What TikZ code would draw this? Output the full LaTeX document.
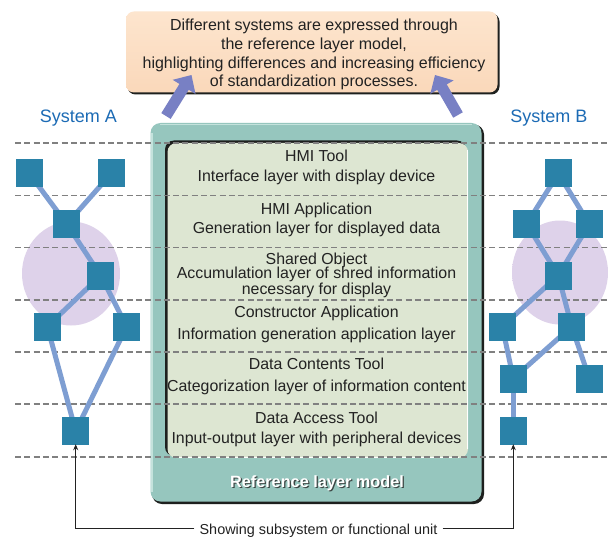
\documentclass[tikz,border=0pt]{standalone}
\usepackage{fontspec}
\setmainfont{Liberation Sans}
\usetikzlibrary{arrows.meta,shadings}
\definecolor{sqcol}{RGB}{42,130,168}
\definecolor{linkcol}{RGB}{126,158,210}
\definecolor{glowcol}{RGB}{222,210,234}
\definecolor{tealcol}{RGB}{150,198,190}
\definecolor{teallight}{RGB}{196,226,220}
\definecolor{innercol}{RGB}{221,230,210}
\definecolor{peachtop}{RGB}{253,229,206}
\definecolor{peachbot}{RGB}{250,216,186}
\definecolor{arrowcol}{RGB}{120,128,196}
\definecolor{sysblue}{RGB}{28,107,181}
\definecolor{dashcol}{RGB}{128,128,128}
\definecolor{txtcol}{RGB}{34,34,34}
\definecolor{darkedge}{RGB}{30,32,30}
\definecolor{shadowgray}{RGB}{60,70,68}
\pgfdeclareradialshading{glowshade}{\pgfpoint{0bp}{0bp}}{color(0bp)=(glowcol); color(32bp)=(glowcol); color(50bp)=(white)}
\pgfdeclarelayer{back}
\pgfdeclarelayer{mid}
\pgfsetlayers{back,mid,main}
\tikzset{
  sq/.style={rectangle, fill=sqcol, minimum width=27pt, minimum height=28pt, inner sep=0pt},
  link/.style={draw=linkcol, line width=5pt},
  dashline/.style={draw=dashcol, line width=1.9pt, dash pattern=on 6pt off 3.3pt},
  layertxt/.style={font=\fontsize{15.9}{16}\selectfont, text=txtcol, anchor=base, inner sep=0pt},
  msgtxt/.style={font=\fontsize{16}{18}\selectfont, text=txtcol, anchor=base, inner sep=0pt},
  systxt/.style={font=\fontsize{18}{20}\selectfont, text=sysblue, anchor=base, inner sep=0pt},
  reftxt/.style={font=\fontsize{16.3}{18}\selectfont\bfseries, anchor=base, inner sep=0pt},
  bigarrow/.style={draw=arrowcol, line width=11pt, -{Triangle[length=14pt,width=26pt]}},
  thinarrow/.style={draw=txtcol, line width=0.9pt, -{Stealth[length=6pt,width=5pt]}},
  glow/.style={shading=glowshade}
}
\begin{document}
\begin{tikzpicture}[x=1pt,y=-1pt]
\useasboundingbox (0,0) rectangle (609,537);

\begin{pgfonlayer}{back}
\fill[white] (0,0) rectangle (609,537);
% glows
\shade[glow] (71,273.5) ellipse [x radius=49, y radius=52];
\shade[glow] (560,272.5) ellipse [x radius=48, y radius=52];

% top message box
\fill[darkedge, rounded corners=8pt] (127.5,13.5) rectangle (499.5,94.5);
\shade[top color=peachtop, bottom color=peachbot, rounded corners=8pt] (126,11.5) rectangle (497.5,92.5);

% reference layer model box
\fill[darkedge, rounded corners=10pt] (152,124.5) rectangle (484,504);
\fill[tealcol, rounded corners=10pt] (150.5,123) rectangle (481.5,501.5);
\draw[teallight, line width=1.5pt] (152,133) -- (152,492);
\draw[teallight, line width=1.5pt] (160,124.3) -- (472,124.3);
\fill[darkedge, rounded corners=9pt] (165,140.5) rectangle (466,456);
\fill[innercol, rounded corners=9pt] (167.5,143) rectangle (468,458);
\draw[white, line width=1pt] (176,457.5) -- (459,457.5);
\draw[white, line width=1pt] (467.5,150) -- (467.5,449);

% dashed layer lines
\foreach \yy in {143,195.5,247.5,300,352.3,404.3,456.7}
  \draw[dashline] (15,\yy) -- (609,\yy);
\end{pgfonlayer}

% message text
\node[msgtxt] (m1) at (314,30.7) {Different systems are expressed through};
\node[msgtxt] (m2) at (314,49.4) {the reference layer model,};
\node[msgtxt] (m3) at (314,68.1) {highlighting differences and increasing efficiency};
\node[msgtxt] (m4) at (314,86.6) {of standardization processes.};

% big arrows
\coordinate (la0) at (166,116);
\coordinate (la1) at (191.5,75);
\coordinate (ra0) at (458,115);
\coordinate (ra1) at (435,75);
\draw[bigarrow] (la0) -- (la1);
\draw[bigarrow] (ra0) -- (ra1);

% system labels
\node[systxt] (sysA) at (78.3,122.7) {System A};
\node[systxt] (sysB) at (548.8,122.7) {System B};

% layer texts
\node[layertxt] (l1a) at (316.5,161.5) {HMI Tool};
\node[layertxt] (l1b) at (316.5,182) {Interface layer with display device};
\node[layertxt] (l2a) at (316.5,214.3) {HMI Application};
\node[layertxt] (l2b) at (316.5,233) {Generation layer for displayed data};
\node[layertxt] (l3a) at (316.5,264) {Shared Object};
\node[layertxt] (l3b) at (316.5,278.5) {Accumulation layer of shred information};
\node[layertxt] (l3c) at (316.5,294.3) {necessary for display};
\node[layertxt] (l4a) at (316.5,317.3) {Constructor Application};
\node[layertxt] (l4b) at (316.5,339.3) {Information generation application layer};
\node[layertxt] (l5a) at (316.5,369) {Data Contents Tool};
\node[layertxt] (l5b) at (316.5,391) {Categorization layer of information content};
\node[layertxt] (l6a) at (316.5,423.3) {Data Access Tool};
\node[layertxt] (l6b) at (316.5,443.3) {Input-output layer with peripheral devices};

\node[reftxt, text=shadowgray] (refsh) at (318.3,488.6) {Reference layer model};
\node[reftxt, text=white] (ref) at (317,487.3) {Reference layer model};

% System A
\node[sq] (A1) at (29.3,173.5) {};
\node[sq] (A2) at (111.3,173.5) {};
\node[sq] (A3) at (66.7,224) {};
\node[sq] (A4) at (100.7,275.5) {};
\node[sq] (A5) at (47.3,326.5) {};
\node[sq] (A6) at (126.7,326.5) {};
\node[sq] (A7) at (75.7,431) {};

% System B
\node[sq] (B1) at (558.3,173.5) {};
\node[sq] (B2) at (526.7,224) {};
\node[sq] (B3) at (589.3,224) {};
\node[sq] (B4) at (558.3,275.5) {};
\node[sq] (B5) at (502.3,326.5) {};
\node[sq] (B6) at (571.7,326.5) {};
\node[sq] (B7) at (513.3,378.5) {};
\node[sq] (B8) at (589.3,378.5) {};
\node[sq] (B9) at (513.3,431) {};

\begin{pgfonlayer}{mid}
\draw[link] (A1.center) -- (A3.center);
\draw[link] (A2.center) -- (A3.center);
\draw[link] (A3.center) -- (A4.center);
\draw[link] (A4.center) -- (A5.center);
\draw[link] (A4.center) -- (A6.center);
\draw[link] (A5.center) -- (A7.center);
\draw[link] (A6.center) -- (A7.center);
\draw[link] (B1.center) -- (B2.center);
\draw[link] (B1.center) -- (B3.center);
\draw[link] (B2.center) -- (B4.center);
\draw[link] (B3.center) -- (B4.center);
\draw[link] (B4.center) -- (B5.center);
\draw[link] (B4.center) -- (B6.center);
\draw[link] (B5.center) -- (B7.center);
\draw[link] (B6.center) -- (B7.center);
\draw[link] (B6.center) -- (B8.center);
\draw[link] (B7.center) -- (B9.center);
\end{pgfonlayer}

% bottom label and arrows
\node[font=\fontsize{14.4}{16}\selectfont, text=txtcol, inner ysep=0pt, inner xsep=5pt, text height=14pt, text depth=3pt] (show) at (318.5,528.5) {Showing subsystem or functional unit};
\draw[thinarrow] (show.west) -| ([yshift=1pt]A7.south);
\draw[thinarrow] (show.east) -| ([yshift=1pt]B9.south);
\end{tikzpicture}
\end{document}
